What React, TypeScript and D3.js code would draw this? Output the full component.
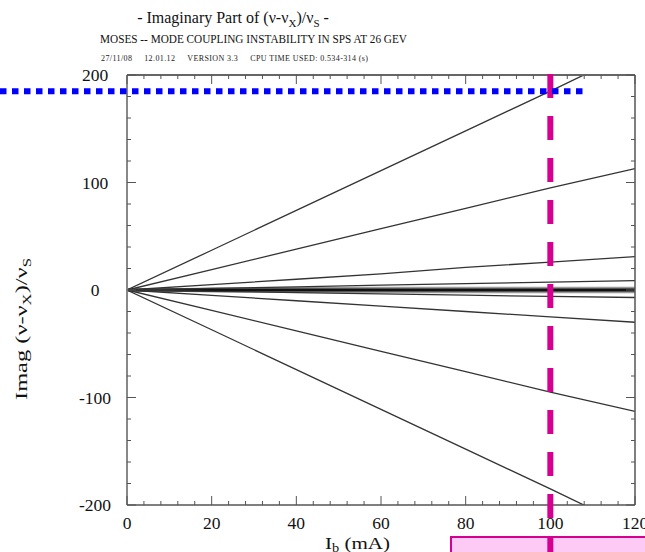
import React from "react";
import * as d3 from "d3";

const currents = [0, 20, 40, 60, 80, 100, 120];
const modeUp1 = [0, 37, 74, 111, 148, 185, 223];
const modeUp2 = [0, 19, 38, 57, 76, 95, 113];
const modeUp3 = [0, 5, 10, 15, 21, 26, 31];
const modeUp4 = [0, 1.5, 3, 4.5, 6, 7.3, 8.7];
const modeDn4 = [0, -1.2, -2.4, -3.6, -4.8, -6, -7];
const modeDn3 = [0, -5, -10, -15, -20, -25, -30];
const modeDn2 = [0, -19, -38, -57, -76, -95, -113];
const modeDn1 = [0, -37, -74, -111, -148, -185, -223];
const modeNear = [
  [0, 1.4, 1.8, 2.0, 2.0, 2.0, 2.0],
  [0, -1.4, -1.8, -2.0, -2.0, -2.0, -2.0],
  [0, 0.7, 0.9, 1.0, 1.0, 1.0, 1.0],
  [0, -0.7, -0.9, -1.0, -1.0, -1.0, -1.0],
];
const modeZero = [0, 0, 0, 0, 0, 0, 0];
const xTicks = [0, 20, 40, 60, 80, 100, 120];
const yTicks = [-200, -100, 0, 100, 200];
const markX = 100;
const markY = 185;

export default function App() {
  const W = 645, H = 552;
  const x = d3.scaleLinear().domain([0, 120]).range([127, 635]);
  const y = d3.scaleLinear().domain([-200, 200]).range([505, 75]);
  const line = d3
    .line<number>()
    .x((_, i) => x(currents[i]))
    .y((d) => y(d));
  const serif = "'Liberation Serif', 'DejaVu Serif', serif";
  const thin = [modeUp1, modeUp2, modeUp3, modeUp4, modeDn4, modeDn3, modeDn2, modeDn1];
  const xMinor = d3.range(0, 121, 4);
  const yMinor = d3.range(-200, 201, 20);
  return (
    <svg
      width={W}
      height={H}
      style={{ position: "absolute", left: 0, top: 0, background: "#fff" }}
      fontFamily={serif}
    >
      <defs>
        <clipPath id="plot">
          <rect x={127} y={75} width={508} height={430} />
        </clipPath>
      </defs>
      <text x={233} y={23} fontSize={16} textAnchor="middle" fill="#111">
        - Imaginary Part of (ν-ν<tspan dy={4} fontSize={11}>X</tspan>
        <tspan dy={-4}>)/ν</tspan>
        <tspan dy={4} fontSize={11}>S</tspan>
        <tspan dy={-4}> -</tspan>
      </text>
      <text x={100} y={43} fontSize={11.5} fill="#111" textLength={307} lengthAdjust="spacingAndGlyphs">
        MOSES -- MODE COUPLING INSTABILITY IN SPS AT 26 GEV
      </text>
      <text x={101} y={61} fontSize={8} fill="#222" textLength={267} lengthAdjust="spacing">
        27/11/08{"\u00a0\u00a0\u00a0\u00a0\u00a0"}12.01.12{"\u00a0\u00a0\u00a0\u00a0\u00a0"}VERSION 3.3{"\u00a0\u00a0\u00a0\u00a0\u00a0"}CPU TIME USED: 0.534-314 (s)
      </text>

      <g clipPath="url(#plot)" fill="none" strokeLinejoin="round">
        {modeNear.map((s, i) => (
          <path key={"n" + i} d={line(s) || ""} stroke="#999" strokeWidth={2} />
        ))}
        <path d={line(modeZero) || ""} stroke="#111" strokeWidth={3} />
        {thin.map((s, i) => (
          <path key={i} d={line(s) || ""} stroke="#333" strokeWidth={1.3} />
        ))}
      </g>

      <line x1={127} x2={127} y1={75} y2={505} stroke="#888" strokeWidth={2} />
      <line x1={127} x2={635} y1={75} y2={75} stroke="#666" strokeWidth={2} />
      <line x1={635} x2={635} y1={75} y2={505} stroke="#555" strokeWidth={1.5} />
      <line x1={127} x2={635} y1={505} y2={505} stroke="#555" strokeWidth={1.5} />

      {xMinor.map((v) => {
        const major = v % 20 === 0;
        const len = major ? 9 : 4;
        return (
          <g key={"xt" + v} stroke="#555" strokeWidth={1}>
            <line x1={x(v)} x2={x(v)} y1={505} y2={505 - len} />
            <line x1={x(v)} x2={x(v)} y1={75} y2={75 + len} />
          </g>
        );
      })}
      {yMinor.map((v) => {
        const major = v % 100 === 0;
        const len = major ? 9 : 4;
        return (
          <g key={"yt" + v} stroke="#555" strokeWidth={1}>
            <line x1={127} x2={127 + len} y1={y(v)} y2={y(v)} />
            <line x1={635} x2={635 - len} y1={y(v)} y2={y(v)} />
          </g>
        );
      })}

      {xTicks.map((v) => (
        <text key={"xl" + v} x={x(v)} y={529} fontSize={17.5} textAnchor="middle" fill="#111">
          {v}
        </text>
      ))}
      {yTicks.map((v) => (
        <text key={"yl" + v} x={95} y={y(v) + 6} fontSize={17.5} textAnchor="middle" fill="#111">
          {v}
        </text>
      ))}

      <text x={325} y={549} fontSize={17.5} fill="#111" textLength={65} lengthAdjust="spacingAndGlyphs">
        I<tspan dy={3} fontSize={12}>b</tspan>
        <tspan dy={-3}> (mA)</tspan>
      </text>
      <text
        transform="translate(27,400) rotate(-90)"
        fontSize={17.5}
        fill="#111"
        textLength={142}
        lengthAdjust="spacingAndGlyphs"
      >
        Imag (ν-ν<tspan dy={4} fontSize={12}>X</tspan>
        <tspan dy={-4}>)/ν</tspan>
        <tspan dy={4} fontSize={12}>S</tspan>
      </text>

      <rect x={451} y={537} width={200} height={20} fill="#fdcaf5" stroke="#d5008f" strokeWidth={2} />
      <line
        x1={x(markX)}
        x2={x(markX)}
        y1={74}
        y2={552}
        stroke="#d5008f"
        strokeWidth={6}
        strokeDasharray="24 18"
      />
      <line
        x1={0}
        x2={583}
        y1={y(markY)}
        y2={y(markY)}
        stroke="#0000ff"
        strokeWidth={6}
        strokeDasharray="6.5 5.5"
      />
    </svg>
  );
}
